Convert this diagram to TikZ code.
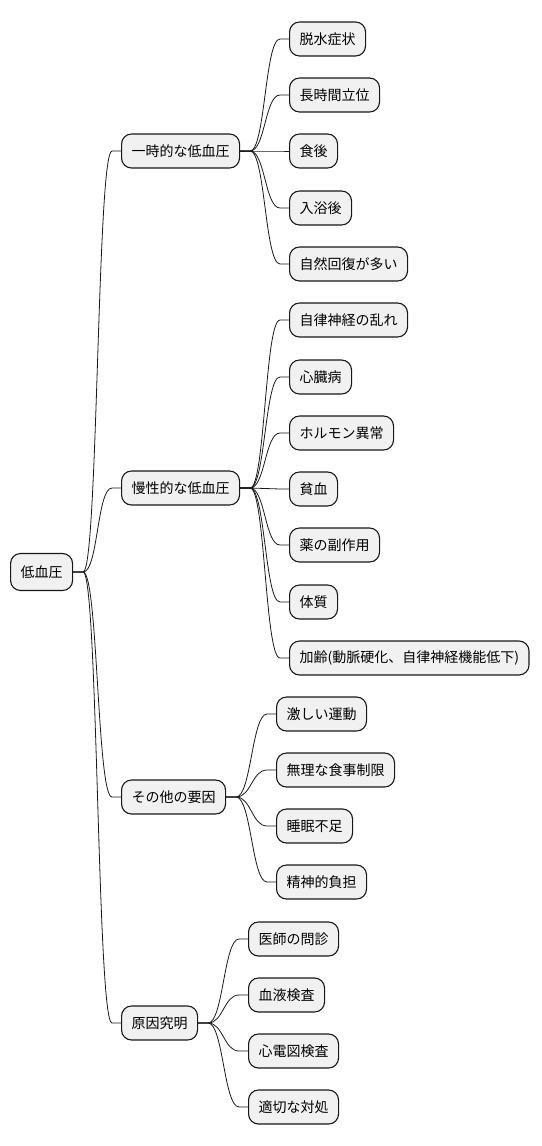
\documentclass[tikz,border=0pt]{standalone}
\usepackage{fontspec}
\setmainfont{Noto Sans CJK JP}
\usetikzlibrary{calc}
\definecolor{boxfill}{HTML}{F1F1F1}
\definecolor{boxline}{HTML}{181818}
\tikzset{
  topic/.style={draw=boxline, fill=boxfill, rounded corners=10pt, line width=1.1pt,
    inner xsep=10pt, inner ysep=0pt, minimum height=34pt, anchor=west,
    font=\fontsize{14pt}{16pt}\selectfont},
  rootbox/.style={topic, minimum height=37pt},
  link/.style={draw=boxline, line width=0.8pt}
}
% 親から子へのつなぎ線
\newcommand\branch[2]{%
  \draw[link] (#1.east) -- ++(10,0) .. controls ($(#1.east)+(25,0)$) and ($(#2.west)+(-24,0)$) .. ($(#2.west)+(-9,0)$) -- (#2.west);}
\begin{document}
\begin{tikzpicture}[x=1pt,y=-1pt]
  \useasboundingbox (0,0) rectangle (541,1146);
  \node[rootbox] (root) at (10,572) {低血圧}; % 中心
  \node[topic] (ichiji) at (121,151) {一時的な低血圧}; % 第1階層
  \node[topic] (mansei) at (121,488) {慢性的な低血圧};
  \node[topic] (sonota) at (121,797) {その他の要因};
  \node[topic] (genin) at (121,1023) {原因究明};
  % 一時的な低血圧
  \node[topic] (ichiji1) at (289,39) {脱水症状};
  \node[topic] (ichiji2) at (289,95) {長時間立位};
  \node[topic] (ichiji3) at (289,151) {食後};
  \node[topic] (ichiji4) at (289,208) {入浴後};
  \node[topic] (ichiji5) at (289,264) {自然回復が多い};
  % 慢性的な低血圧
  \node[topic] (mansei1) at (289,320) {自律神経の乱れ};
  \node[topic] (mansei2) at (289,377) {心臓病};
  \node[topic] (mansei3) at (289,433) {ホルモン異常};
  \node[topic] (mansei4) at (289,489) {貧血};
  \node[topic] (mansei5) at (289,545) {薬の副作用};
  \node[topic] (mansei6) at (289,602) {体質};
  \node[topic] (mansei7) at (289,658) {加齢(動脈硬化、自律神経機能低下)};
  % その他の要因
  \node[topic] (sonota1) at (276,714) {激しい運動};
  \node[topic] (sonota2) at (276,770) {無理な食事制限};
  \node[topic] (sonota3) at (276,826) {睡眠不足};
  \node[topic] (sonota4) at (276,882) {精神的負担};
  % 原因究明
  \node[topic] (genin1) at (248,939) {医師の問診};
  \node[topic] (genin2) at (248,995) {血液検査};
  \node[topic] (genin3) at (248,1051) {心電図検査};
  \node[topic] (genin4) at (248,1107) {適切な対処};
  % つなぎ線
  \branch{root}{ichiji} \branch{root}{mansei} \branch{root}{sonota} \branch{root}{genin}
  \branch{ichiji}{ichiji1} \branch{ichiji}{ichiji2} \branch{ichiji}{ichiji3}
  \branch{ichiji}{ichiji4} \branch{ichiji}{ichiji5}
  \branch{mansei}{mansei1} \branch{mansei}{mansei2} \branch{mansei}{mansei3}
  \branch{mansei}{mansei4} \branch{mansei}{mansei5} \branch{mansei}{mansei6}
  \branch{mansei}{mansei7}
  \branch{sonota}{sonota1} \branch{sonota}{sonota2} \branch{sonota}{sonota3}
  \branch{sonota}{sonota4}
  \branch{genin}{genin1} \branch{genin}{genin2} \branch{genin}{genin3}
  \branch{genin}{genin4}
\end{tikzpicture}
\end{document}
